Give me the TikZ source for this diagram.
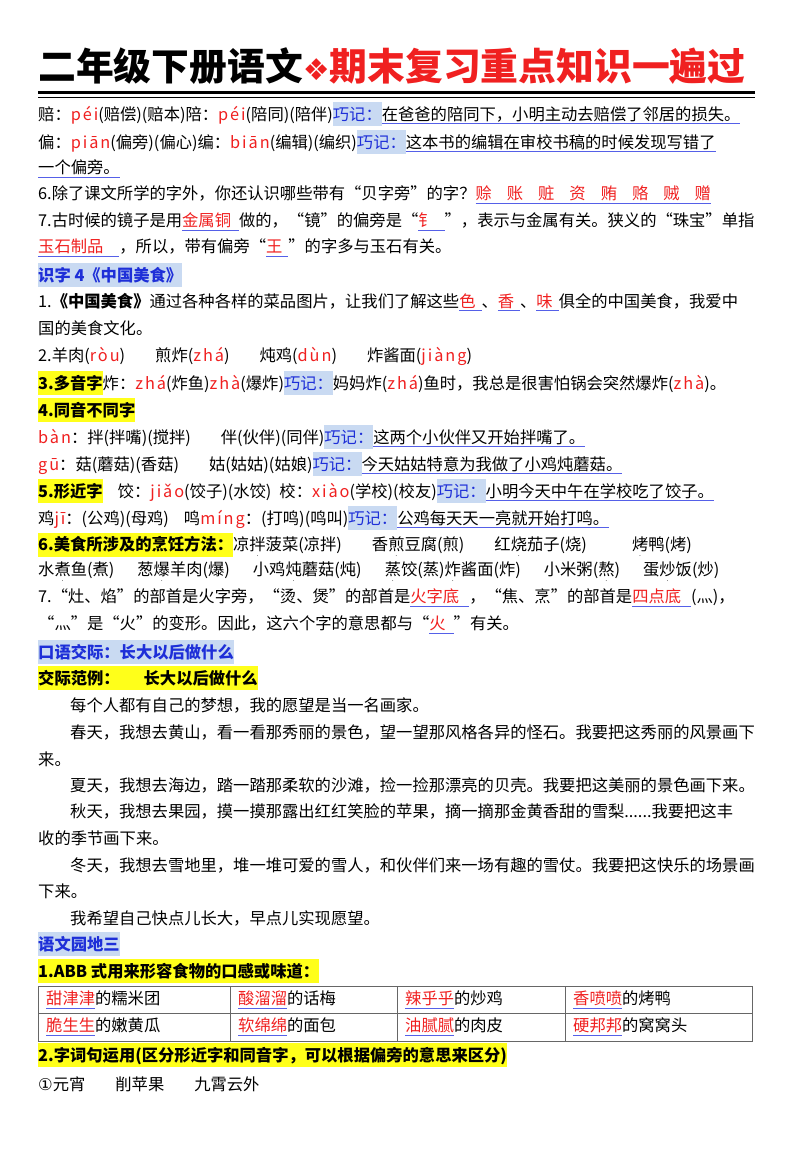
\documentclass[tikz,border=0pt]{standalone}
\usepackage{fontspec}
\setmainfont{Noto Sans CJK SC}
\newfontfamily\dejavu{DejaVu Sans}
\definecolor{ulb}{HTML}{5560E8}
\definecolor{hlblue}{HTML}{C9DAF2}
\definecolor{tblue}{HTML}{1E2FD8}
\definecolor{tred}{HTML}{F02020}
\definecolor{hly}{HTML}{FFFF1A}
\newcommand\R[1]{\textcolor{tred}{#1}}
\newcommand\ul[1]{\setbox0\hbox{#1}\rlap{\textcolor{ulb}{\rule[-4pt]{\wd0}{1.2pt}}}\box0}
\newcommand\hlbox[2]{\setbox0\hbox{#2}\rlap{\textcolor{#1}{\rule[-6pt]{\wd0}{24pt}}}\box0}
\newcommand\qj{\hlbox{hlblue}{\textcolor{tblue}{巧记：}}}
\newcommand\hy[1]{\hlbox{hly}{\textbf{#1}}}
\newcommand\hb[1]{\hlbox{hlblue}{\textcolor{tblue}{\textbf{#1}}}}
\newcommand\dd[1]{\setbox0\hbox{#1}\rlap{\hbox to\wd0{\hss\raisebox{-6pt}{\scriptsize.}\hss}}\box0}
\newcommand\gap{\hspace{15pt}}
\newcommand\py[1]{\R{\addfontfeature{LetterSpace=12}#1}}
\begin{document}
\begin{tikzpicture}[x=1pt,y=1pt,
  ln/.style={anchor=west,inner sep=0pt,font=\fontsize{16.3}{18}\selectfont},
  cell/.style={anchor=west,inner sep=0pt,font=\fontsize{16.3}{18}\selectfont}]
\useasboundingbox (0,0) rectangle (800,-1159);
\fill[white] (0,0) rectangle (800,-1159);
\node[anchor=base west,inner sep=0pt,font=\fontsize{37.8}{40}\selectfont\bfseries] (title) at (38,-80)
  {二年级下册语文\textcolor{tred}{{\dejavu\fontsize{30}{34}\selectfont ❖}期末复习重点知识一遍过}};
\draw[line width=3pt] (38,-92) -- (755,-92);
\draw[line width=1pt] (38,-97.5) -- (755,-97.5);
\node[ln] (l1) at (38,-114) {赔：\py{péi}(赔偿)(赔本)陪：\py{péi}(陪同)(陪伴)\qj\ul{在爸爸的陪同下，小明主动去赔偿了邻居的损失。}};
\node[ln] (l2) at (38,-142) {偏：\py{piān}(偏旁)(偏心)编：\py{biān}(编辑)(编织)\qj\ul{这本书的编辑在审校书稿的时候发现写错了}};
\node[ln] (l3) at (38,-169) {\ul{一个偏旁。}};
\node[ln] (l4) at (38,-195) {6.除了课文所学的字外，你还认识哪些带有“贝字旁”的字？\ul{\R{赊\gap 账\gap 赃\gap 资\gap 贿\gap 赂\gap 贼\gap 赠}}};
\node[ln] (l5) at (38,-222) {7.古时候的镜子是用\ul{\R{金属铜}\hspace{8pt}}做的，“镜”的偏旁是“\ul{\R{钅}\hspace{10pt}}”，表示与金属有关。狭义的“珠宝”单指};
\node[ln] (l6) at (38,-248) {\ul{\R{玉石制品}\hspace{16pt}}，所以，带有偏旁“\ul{\R{王}\hspace{6pt}}”的字多与玉石有关。};
\node[ln] (l7) at (38,-275) {\hb{识字 4《中国美食》}};
\node[ln] (l8) at (38,-302) {1.\textbf{《中国美食》}通过各种各样的菜品图片，让我们了解这些\ul{\R{色}\hspace{6pt}}、\ul{\R{香}\hspace{6pt}}、\ul{\R{味}\hspace{6pt}}俱全的中国美食，我爱中};
\node[ln] (l9) at (38,-328) {国的美食文化。};
\node[ln] (l10) at (38,-356) {2.羊肉(\py{ròu})\gap\gap 煎炸(\py{zhá})\gap\gap 炖鸡(\py{dùn})\gap\gap 炸酱面(\py{jiàng})};
\node[ln] (l11) at (38,-383) {\hy{3.多音字}炸：\py{zhá}(炸鱼)\py{zhà}(爆炸)\qj 妈妈炸(\py{zhá})鱼时，我总是很害怕锅会突然爆炸(\py{zhà})。};
\node[ln] (l12) at (38,-410) {\hy{4.同音不同字}};
\node[ln] (l13) at (38,-437) {\py{bàn}：拌(拌嘴)(搅拌)\gap\gap 伴(伙伴)(同伴)\qj\ul{这两个小伙伴又开始拌嘴了。}};
\node[ln] (l14) at (38,-464) {\py{gū}：菇(蘑菇)(香菇)\gap\gap 姑(姑姑)(姑娘)\qj\ul{今天姑姑特意为我做了小鸡炖蘑菇。}};
\node[ln] (l15) at (38,-491) {\hy{5.形近字}\gap 饺：\py{jiǎo}(饺子)(水饺)\hspace{8pt}校：\py{xiào}(学校)(校友)\qj\ul{小明今天中午在学校吃了饺子。}};
\node[ln] (l16) at (38,-518) {鸡\py{jī}：(公鸡)(母鸡)\gap 鸣\py{míng}：(打鸣)(鸣叫)\qj\ul{公鸡每天天一亮就开始打鸣。}};
\node[ln] (l17) at (38,-545) {\hy{6.美食所涉及的烹饪方法：}凉\dd{拌}菠菜(凉拌)\gap\gap 香\dd{煎}豆腐(煎)\gap\gap 红\dd{烧}茄子(烧)\gap\gap\gap \dd{烤}鸭(烤)};
\node[ln] (l18) at (38,-572) {水\dd{煮}鱼(煮)\gap\hspace{8pt}葱\dd{爆}羊肉(爆)\gap\hspace{8pt}小鸡\dd{炖}蘑菇(炖)\gap\hspace{8pt}\dd{蒸}饺(蒸)\dd{炸}酱面(炸)\gap\hspace{8pt}小米粥(\dd{熬})\gap\hspace{8pt}蛋\dd{炒}饭(炒)};
\node[ln] (l19) at (38,-598) {7.“灶、焰”的部首是火字旁，“烫、煲”的部首是\ul{\R{火字底}\hspace{10pt}}，“焦、烹”的部首是\ul{\R{四点底}\hspace{10pt}}(灬)，};
\node[ln] (l20) at (38,-625) {“灬”是“火”的变形。因此，这六个字的意思都与“\ul{\R{火}\hspace{8pt}}”有关。};
\node[ln] (l21) at (38,-652) {\hb{口语交际：长大以后做什么}};
\node[ln] (l22) at (38,-678) {\hy{交际范例：\hspace{24pt}长大以后做什么}};
\node[ln] (p1) at (70,-705) {每个人都有自己的梦想，我的愿望是当一名画家。};
\node[ln] (p2) at (70,-732) {春天，我想去黄山，看一看那秀丽的景色，望一望那风格各异的怪石。我要把这秀丽的风景画下};
\node[ln] (p3) at (38,-759) {来。};
\node[ln] (p4) at (70,-785) {夏天，我想去海边，踏一踏那柔软的沙滩，捡一捡那漂亮的贝壳。我要把这美丽的景色画下来。};
\node[ln] (p5) at (70,-811) {秋天，我想去果园，摸一摸那露出红红笑脸的苹果，摘一摘那金黄香甜的雪梨......我要把这丰};
\node[ln] (p6) at (38,-838) {收的季节画下来。};
\node[ln] (p7) at (70,-865) {冬天，我想去雪地里，堆一堆可爱的雪人，和伙伴们来一场有趣的雪仗。我要把这快乐的场景画};
\node[ln] (p8) at (38,-891) {下来。};
\node[ln] (p9) at (70,-918) {我希望自己快点儿长大，早点儿实现愿望。};
\node[ln] (l23) at (38,-944) {\hb{语文园地三}};
\node[ln] (l24) at (38,-971) {\hy{1.ABB 式用来形容食物的口感或味道：}};
\draw[gray!80!black,line width=0.8pt] (38,-986) rectangle (752,-1041);
\draw[gray!80!black,line width=0.8pt] (38,-1013) -- (752,-1013);
\foreach \cx in {230,397,565} \draw[gray!80!black,line width=0.8pt] (\cx,-986) -- (\cx,-1041);
\node[cell] (c1) at (46,-1000) {\ul{\R{甜津津}}的糯米团};
\node[cell] (c2) at (238,-1000) {\ul{\R{酸溜溜}}的话梅};
\node[cell] (c3) at (405,-1000) {\ul{\R{辣乎乎}}的炒鸡};
\node[cell] (c4) at (573,-1000) {\ul{\R{香喷喷}}的烤鸭};
\node[cell] (c5) at (46,-1027) {\ul{\R{脆生生}}的嫩黄瓜};
\node[cell] (c6) at (238,-1027) {\ul{\R{软绵绵}}的面包};
\node[cell] (c7) at (405,-1027) {\ul{\R{油腻腻}}的肉皮};
\node[cell] (c8) at (573,-1027) {\ul{\R{硬邦邦}}的窝窝头};
\node[ln] (l25) at (38,-1055) {\hy{2.字词句运用(区分形近字和同音字，可以根据偏旁的意思来区分)}};
\node[ln] (l26) at (38,-1084) {{\dejavu ①}元宵\gap\gap 削苹果\gap\gap 九霄云外};
\end{tikzpicture}
\end{document}
